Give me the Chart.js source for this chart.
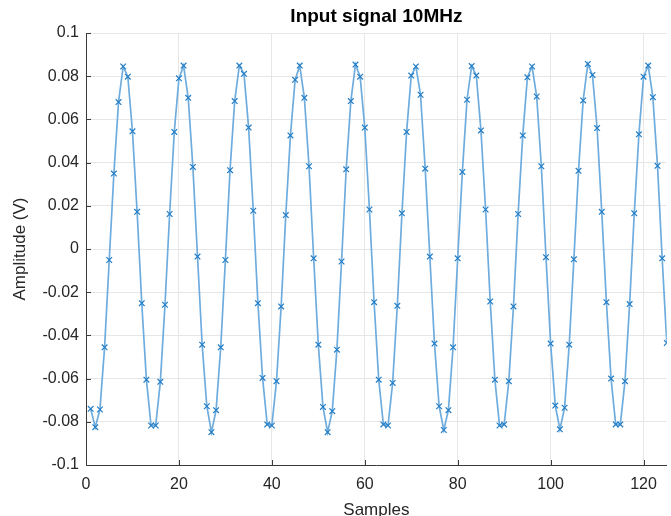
<!DOCTYPE html>
<html>
<head>
<meta charset="UTF-8">
<title>Input signal 10MHz</title>
<script src="https://cdn.jsdelivr.net/npm/chart.js"></script>
<style>
  html, body { margin: 0; padding: 0; overflow: hidden; background: #fff; }
  #plot { display: block; }
</style>
</head>
<body>
<canvas id="plot" width="672" height="530"></canvas>
<script>
// sample index (MATLAB style, starts at 1)
const samples = [
  1, 2, 3, 4, 5, 6, 7, 8, 9, 10, 11, 12, 13, 14, 15, 16, 17, 18, 19, 20,
  21, 22, 23, 24, 25, 26, 27, 28, 29, 30, 31, 32, 33, 34, 35, 36, 37, 38, 39, 40,
  41, 42, 43, 44, 45, 46, 47, 48, 49, 50, 51, 52, 53, 54, 55, 56, 57, 58, 59, 60,
  61, 62, 63, 64, 65, 66, 67, 68, 69, 70, 71, 72, 73, 74, 75, 76, 77, 78, 79, 80,
  81, 82, 83, 84, 85, 86, 87, 88, 89, 90, 91, 92, 93, 94, 95, 96, 97, 98, 99, 100,
  101, 102, 103, 104, 105, 106, 107, 108, 109, 110, 111, 112, 113, 114, 115, 116, 117, 118, 119, 120,
  121, 122, 123, 124, 125
];

// amplitude in volts
const amplitude = [
  -0.0740, -0.0825, -0.0743, -0.0455, -0.0051, 0.0349, 0.0680, 0.0845, 0.0798, 0.0545,
  0.0172, -0.0251, -0.0605, -0.0817, -0.0817, -0.0615, -0.0258, 0.0162, 0.0542, 0.0790,
  0.0849, 0.0700, 0.0380, -0.0035, -0.0443, -0.0728, -0.0848, -0.0746, -0.0455, -0.0051,
  0.0365, 0.0685, 0.0849, 0.0811, 0.0562, 0.0177, -0.0251, -0.0597, -0.0812, -0.0817,
  -0.0612, -0.0266, 0.0157, 0.0526, 0.0783, 0.0849, 0.0700, 0.0383, -0.0043, -0.0443,
  -0.0731, -0.0848, -0.0751, -0.0466, -0.0058, 0.0369, 0.0685, 0.0854, 0.0798, 0.0562,
  0.0183, -0.0246, -0.0605, -0.0812, -0.0817, -0.0620, -0.0263, 0.0165, 0.0542, 0.0803,
  0.0845, 0.0714, 0.0372, -0.0035, -0.0438, -0.0728, -0.0838, -0.0746, -0.0455, -0.0043,
  0.0357, 0.0691, 0.0847, 0.0803, 0.0549, 0.0183, -0.0243, -0.0605, -0.0817, -0.0812,
  -0.0612, -0.0266, 0.0162, 0.0526, 0.0795, 0.0845, 0.0706, 0.0383, -0.0038, -0.0438,
  -0.0725, -0.0835, -0.0735, -0.0443, -0.0048, 0.0362, 0.0688, 0.0857, 0.0806, 0.0560,
  0.0172, -0.0246, -0.0600, -0.0812, -0.0812, -0.0612, -0.0255, 0.0165, 0.0531, 0.0798,
  0.0849, 0.0703, 0.0385, -0.0043, -0.0435
];

const xTicks = [0, 20, 40, 60, 80, 100, 120];
const xTickLabels = ['0', '20', '40', '60', '80', '100', '120'];
const yTicks = [-0.1, -0.08, -0.06, -0.04, -0.02, 0, 0.02, 0.04, 0.06, 0.08, 0.1];
const yTickLabels = ['-0.1', '-0.08', '-0.06', '-0.04', '-0.02', '0', '0.02', '0.04', '0.06', '0.08', '0.1'];

const axisColor = '#3a3a3a';
const textColor = '#262626';
const gridColor = '#e6e6e6';
const fontFamily = '"Liberation Sans", Arial, Helvetica, sans-serif';

// matlab draws its tick marks inside the axes
const inwardTicks = {
  id: 'inwardTicks',
  beforeDatasetsDraw(chart) {
    const { ctx, chartArea, scales } = chart;
    ctx.save();
    ctx.strokeStyle = axisColor;
    ctx.lineWidth = 1;
    ctx.beginPath();
    scales.x.ticks.forEach(t => {
      const px = Math.round(scales.x.getPixelForValue(t.value)) + 0.5;
      ctx.moveTo(px, chartArea.bottom);
      ctx.lineTo(px, chartArea.bottom - 5);
    });
    scales.y.ticks.forEach(t => {
      const py = Math.round(scales.y.getPixelForValue(t.value)) + 0.5;
      ctx.moveTo(chartArea.left, py);
      ctx.lineTo(chartArea.left + 5, py);
    });
    ctx.stroke();
    ctx.restore();
  }
};

new Chart(document.getElementById('plot'), {
  type: 'line',
  data: {
    datasets: [{
      data: samples.map((s, i) => ({ x: s, y: amplitude[i] })),
      borderColor: 'rgb(110,172,222)',
      borderWidth: 1.7,
      pointStyle: 'crossRot',
      pointRadius: 4,
      pointBorderColor: 'rgb(36,126,198)',
      pointBorderWidth: 1.2,
      pointBackgroundColor: 'rgb(36,126,198)',
      fill: false,
      tension: 0
    }]
  },
  options: {
    responsive: false,
    animation: false,
    layout: { padding: 0 },
    plugins: {
      legend: { display: false },
      tooltip: { enabled: false },
      title: {
        display: true,
        text: 'Input signal 10MHz',
        fullSize: false,
        color: '#000',
        font: { family: fontFamily, size: 19, weight: 'bold', lineHeight: 1.2 },
        padding: { top: 5.6, bottom: 4.6 }
      }
    },
    scales: {
      x: {
        type: 'linear',
        min: 0,
        max: 125,
        afterFit(s) { s.height = 65; },
        afterBuildTicks(s) { s.ticks = xTicks.map(v => ({ value: v })); },
        ticks: {
          color: textColor,
          font: { family: fontFamily, size: 16 },
          padding: 10,
          maxRotation: 0,
          autoSkip: false,
          callback: (v, i) => xTickLabels[i]
        },
        grid: { color: gridColor, drawTicks: false },
        border: { color: axisColor, width: 1 },
        title: {
          display: true,
          text: 'Samples',
          color: textColor,
          font: { family: fontFamily, size: 17, lineHeight: 1.2 },
          padding: { top: 0, bottom: 9.5 }
        }
      },
      y: {
        type: 'linear',
        min: -0.1,
        max: 0.1,
        afterFit(s) { s.width = 86; },
        afterBuildTicks(s) { s.ticks = yTicks.map(v => ({ value: v })); },
        ticks: {
          color: textColor,
          font: { family: fontFamily, size: 16 },
          padding: 7,
          autoSkip: false,
          callback: (v, i) => yTickLabels[i]
        },
        grid: { color: gridColor, drawTicks: false },
        border: { color: axisColor, width: 1 },
        title: {
          display: true,
          text: 'Amplitude (V)',
          color: textColor,
          font: { family: fontFamily, size: 17, lineHeight: 1.2 },
          padding: { top: 10.5, bottom: 0 }
        }
      }
    }
  },
  plugins: [inwardTicks]
});
</script>
</body>
</html>
